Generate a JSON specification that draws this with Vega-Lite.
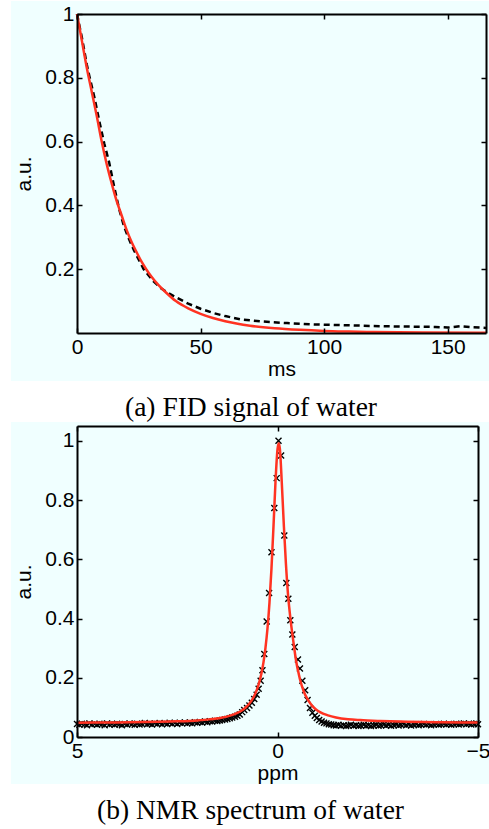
{
  "$schema": "https://vega.github.io/schema/vega-lite/v6.json",
  "padding": {"left": 10, "top": 0, "right": 0, "bottom": 0},
  "background": "white",
  "spacing": 0,
  "config": {
    "view": {"stroke": null},
    "axis": {
      "domainColor": "black", "domainWidth": 2, "tickColor": "black", "tickWidth": 1.5, "tickSize": -5,
      "labelFont": "Liberation Sans", "labelFontSize": 21, "labelColor": "black",
      "titleFont": "Liberation Sans", "titleFontSize": 21, "titleFontWeight": "normal", "titleColor": "black",
      "grid": false, "labelFlush": false, "labelOverlap": false, "labelPadding": 8
    },
    "axisX": {"titlePadding": 1},
    "axisY": {"titlePadding": 10},
    "title": {"font": "Liberation Serif", "fontSize": 27.5, "fontWeight": "normal", "color": "black", "orient": "bottom", "anchor": "middle", "frame": "bounds", "offset": 13}
  },
  "datasets": {
    "fid_fit": [
      {"t": 0, "v": 1.0}, {"t": 2, "v": 0.915}, {"t": 4, "v": 0.83}, {"t": 6, "v": 0.755}, {"t": 8, "v": 0.68},
      {"t": 10, "v": 0.6}, {"t": 12, "v": 0.53}, {"t": 14, "v": 0.47}, {"t": 16, "v": 0.415}, {"t": 18, "v": 0.37},
      {"t": 20, "v": 0.325}, {"t": 22, "v": 0.287}, {"t": 24, "v": 0.255}, {"t": 26, "v": 0.225}, {"t": 28, "v": 0.2},
      {"t": 30, "v": 0.178}, {"t": 33, "v": 0.15}, {"t": 36, "v": 0.127}, {"t": 40, "v": 0.1}, {"t": 45, "v": 0.077},
      {"t": 50, "v": 0.06}, {"t": 55, "v": 0.047}, {"t": 60, "v": 0.037}, {"t": 65, "v": 0.029}, {"t": 70, "v": 0.023},
      {"t": 80, "v": 0.015}, {"t": 90, "v": 0.01}, {"t": 100, "v": 0.0065}, {"t": 110, "v": 0.0045}, {"t": 120, "v": 0.003},
      {"t": 140, "v": 0.0015}, {"t": 165.5, "v": 0.0008}
    ],
    "fid_data": [
      {"t": 0, "v": 1.0}, {"t": 2, "v": 0.925}, {"t": 4, "v": 0.84}, {"t": 5, "v": 0.805}, {"t": 7, "v": 0.74},
      {"t": 9, "v": 0.665}, {"t": 11, "v": 0.595}, {"t": 13, "v": 0.535}, {"t": 15, "v": 0.46}, {"t": 17, "v": 0.39},
      {"t": 19, "v": 0.335}, {"t": 21, "v": 0.295}, {"t": 23, "v": 0.26}, {"t": 25, "v": 0.23}, {"t": 27, "v": 0.2},
      {"t": 29, "v": 0.18}, {"t": 31, "v": 0.162}, {"t": 34, "v": 0.14}, {"t": 37, "v": 0.125}, {"t": 40, "v": 0.112},
      {"t": 45, "v": 0.092}, {"t": 50, "v": 0.076}, {"t": 55, "v": 0.063}, {"t": 60, "v": 0.053}, {"t": 66, "v": 0.043},
      {"t": 75, "v": 0.036}, {"t": 85, "v": 0.031}, {"t": 95, "v": 0.027}, {"t": 105, "v": 0.025}, {"t": 115, "v": 0.023},
      {"t": 125, "v": 0.021}, {"t": 135, "v": 0.02}, {"t": 145, "v": 0.019}, {"t": 150, "v": 0.017}, {"t": 155, "v": 0.021},
      {"t": 160, "v": 0.018}, {"t": 165.5, "v": 0.016}
    ],
    "nmr_fit": [
      {"p": 5, "v": 0.0485}, {"p": 4, "v": 0.0493}, {"p": 3, "v": 0.0511}, {"p": 2.5, "v": 0.0529}, {"p": 2, "v": 0.0561},
      {"p": 1.7, "v": 0.0595}, {"p": 1.4, "v": 0.0651}, {"p": 1.2, "v": 0.0714}, {"p": 1.0, "v": 0.0814}, {"p": 0.9, "v": 0.0888},
      {"p": 0.8, "v": 0.0989}, {"p": 0.7, "v": 0.1131}, {"p": 0.6, "v": 0.1335}, {"p": 0.5, "v": 0.1648}, {"p": 0.45, "v": 0.1868},
      {"p": 0.4, "v": 0.2151}, {"p": 0.35, "v": 0.252}, {"p": 0.3, "v": 0.301}, {"p": 0.25, "v": 0.3663}, {"p": 0.2, "v": 0.4539},
      {"p": 0.15, "v": 0.5691}, {"p": 0.1, "v": 0.7113}, {"p": 0.05, "v": 0.8617}, {"p": 0.0, "v": 0.9712}, {"p": -0.03, "v": 0.992},
      {"p": -0.06, "v": 0.972}, {"p": -0.11, "v": 0.85}, {"p": -0.16, "v": 0.71}, {"p": -0.21, "v": 0.585}, {"p": -0.26, "v": 0.485},
      {"p": -0.31, "v": 0.415}, {"p": -0.36, "v": 0.358}, {"p": -0.41, "v": 0.308}, {"p": -0.46, "v": 0.26}, {"p": -0.51, "v": 0.225},
      {"p": -0.56, "v": 0.195}, {"p": -0.66, "v": 0.152}, {"p": -0.76, "v": 0.125}, {"p": -0.86, "v": 0.106}, {"p": -0.96, "v": 0.093},
      {"p": -1.06, "v": 0.084}, {"p": -1.26, "v": 0.073}, {"p": -1.46, "v": 0.066}, {"p": -1.76, "v": 0.06}, {"p": -2.06, "v": 0.057},
      {"p": -2.56, "v": 0.054}, {"p": -3.06, "v": 0.052}, {"p": -4.06, "v": 0.05}, {"p": -5, "v": 0.049}
    ],
    "nmr_data": [
      {"p": 5.00, "v": 0.044}, {"p": 4.94, "v": 0.041}, {"p": 4.88, "v": 0.045}, {"p": 4.81, "v": 0.043}, {"p": 4.75, "v": 0.040},
      {"p": 4.69, "v": 0.046}, {"p": 4.63, "v": 0.042}, {"p": 4.56, "v": 0.044}, {"p": 4.50, "v": 0.041}, {"p": 4.44, "v": 0.045},
      {"p": 4.38, "v": 0.043}, {"p": 4.31, "v": 0.040}, {"p": 4.25, "v": 0.046}, {"p": 4.19, "v": 0.042}, {"p": 4.13, "v": 0.044},
      {"p": 4.06, "v": 0.041}, {"p": 4.00, "v": 0.045}, {"p": 3.94, "v": 0.043}, {"p": 3.88, "v": 0.040}, {"p": 3.81, "v": 0.044},
      {"p": 3.75, "v": 0.042}, {"p": 3.69, "v": 0.046}, {"p": 3.63, "v": 0.043}, {"p": 3.56, "v": 0.041}, {"p": 3.50, "v": 0.045},
      {"p": 3.44, "v": 0.042}, {"p": 3.38, "v": 0.044}, {"p": 3.31, "v": 0.047}, {"p": 3.25, "v": 0.043}, {"p": 3.19, "v": 0.045},
      {"p": 3.13, "v": 0.042}, {"p": 3.06, "v": 0.046}, {"p": 3.00, "v": 0.044}, {"p": 2.94, "v": 0.047}, {"p": 2.88, "v": 0.043},
      {"p": 2.81, "v": 0.046}, {"p": 2.75, "v": 0.044}, {"p": 2.69, "v": 0.048}, {"p": 2.63, "v": 0.045}, {"p": 2.56, "v": 0.047},
      {"p": 2.50, "v": 0.044}, {"p": 2.44, "v": 0.048}, {"p": 2.38, "v": 0.046}, {"p": 2.31, "v": 0.049}, {"p": 2.25, "v": 0.046},
      {"p": 2.19, "v": 0.048}, {"p": 2.13, "v": 0.046}, {"p": 2.06, "v": 0.050}, {"p": 2.00, "v": 0.048}, {"p": 1.94, "v": 0.051},
      {"p": 1.88, "v": 0.049}, {"p": 1.81, "v": 0.052}, {"p": 1.75, "v": 0.050}, {"p": 1.69, "v": 0.053}, {"p": 1.63, "v": 0.052},
      {"p": 1.56, "v": 0.055}, {"p": 1.50, "v": 0.054}, {"p": 1.44, "v": 0.056}, {"p": 1.38, "v": 0.057}, {"p": 1.31, "v": 0.059},
      {"p": 1.25, "v": 0.061}, {"p": 1.19, "v": 0.063}, {"p": 1.13, "v": 0.066}, {"p": 1.06, "v": 0.068}, {"p": 1.00, "v": 0.072},
      {"p": 0.94, "v": 0.076}, {"p": 0.88, "v": 0.084}, {"p": 0.83, "v": 0.091}, {"p": 0.76, "v": 0.098}, {"p": 0.70, "v": 0.106},
      {"p": 0.64, "v": 0.116}, {"p": 0.58, "v": 0.128}, {"p": 0.52, "v": 0.143}, {"p": 0.47, "v": 0.163}, {"p": 0.42, "v": 0.19},
      {"p": 0.375, "v": 0.225}, {"p": 0.33, "v": 0.28}, {"p": 0.27, "v": 0.39}, {"p": 0.21, "v": 0.486}, {"p": 0.15, "v": 0.624},
      {"p": 0.08, "v": 0.773}, {"p": 0.02, "v": 0.874}, {"p": -0.025, "v": 1.0}, {"p": -0.09, "v": 0.95}, {"p": -0.17, "v": 0.68},
      {"p": -0.22, "v": 0.52}, {"p": -0.27, "v": 0.467}, {"p": -0.32, "v": 0.394}, {"p": -0.37, "v": 0.346}, {"p": -0.43, "v": 0.304},
      {"p": -0.51, "v": 0.262}, {"p": -0.56, "v": 0.231}, {"p": -0.62, "v": 0.19}, {"p": -0.69, "v": 0.158}, {"p": -0.75, "v": 0.125},
      {"p": -0.81, "v": 0.098}, {"p": -0.87, "v": 0.082}, {"p": -0.93, "v": 0.072}, {"p": -0.98, "v": 0.064}, {"p": -1.04, "v": 0.057},
      {"p": -1.10, "v": 0.052}, {"p": -1.16, "v": 0.048}, {"p": -1.22, "v": 0.046}, {"p": -1.28, "v": 0.043}, {"p": -1.34, "v": 0.042},
      {"p": -1.40, "v": 0.040}, {"p": -1.46, "v": 0.039}, {"p": -1.52, "v": 0.041}, {"p": -1.58, "v": 0.038}, {"p": -1.65, "v": 0.040},
      {"p": -1.71, "v": 0.037}, {"p": -1.77, "v": 0.039}, {"p": -1.83, "v": 0.041}, {"p": -1.90, "v": 0.038}, {"p": -1.96, "v": 0.040},
      {"p": -2.02, "v": 0.037}, {"p": -2.08, "v": 0.039}, {"p": -2.15, "v": 0.041}, {"p": -2.21, "v": 0.038}, {"p": -2.27, "v": 0.040},
      {"p": -2.33, "v": 0.037}, {"p": -2.40, "v": 0.039}, {"p": -2.46, "v": 0.041}, {"p": -2.52, "v": 0.038}, {"p": -2.58, "v": 0.040},
      {"p": -2.65, "v": 0.042}, {"p": -2.71, "v": 0.039}, {"p": -2.77, "v": 0.041}, {"p": -2.83, "v": 0.038}, {"p": -2.90, "v": 0.040},
      {"p": -2.96, "v": 0.042}, {"p": -3.02, "v": 0.039}, {"p": -3.08, "v": 0.041}, {"p": -3.15, "v": 0.043}, {"p": -3.21, "v": 0.040},
      {"p": -3.27, "v": 0.042}, {"p": -3.33, "v": 0.039}, {"p": -3.40, "v": 0.041}, {"p": -3.46, "v": 0.043}, {"p": -3.52, "v": 0.040},
      {"p": -3.58, "v": 0.042}, {"p": -3.65, "v": 0.044}, {"p": -3.71, "v": 0.041}, {"p": -3.77, "v": 0.043}, {"p": -3.83, "v": 0.040},
      {"p": -3.90, "v": 0.042}, {"p": -3.96, "v": 0.044}, {"p": -4.02, "v": 0.041}, {"p": -4.08, "v": 0.043}, {"p": -4.15, "v": 0.045},
      {"p": -4.21, "v": 0.042}, {"p": -4.27, "v": 0.044}, {"p": -4.33, "v": 0.041}, {"p": -4.40, "v": 0.043}, {"p": -4.46, "v": 0.045},
      {"p": -4.52, "v": 0.042}, {"p": -4.58, "v": 0.044}, {"p": -4.65, "v": 0.046}, {"p": -4.71, "v": 0.043}, {"p": -4.77, "v": 0.045},
      {"p": -4.83, "v": 0.042}, {"p": -4.90, "v": 0.044}, {"p": -4.96, "v": 0.046}, {"p": -5.00, "v": 0.043}
    ]
  },
  "vconcat": [
    {
      "width": 409,
      "height": 319,
      "title": {"text": "(a) FID signal of water"},
      "layer": [
        {
          "data": {"values": [{}]},
          "mark": {"type": "rect", "color": "#f0ffff", "clip": false},
          "encoding": {
            "x": {"datum": -26.7, "type": "quantitative", "scale": {"domain": [0, 165.5], "nice": false, "zero": false}, "axis": null},
            "x2": {"datum": 167.1},
            "y": {"datum": 1.0408, "type": "quantitative", "scale": {"domain": [0, 1], "nice": false, "zero": false}, "axis": null},
            "y2": {"datum": -0.1505}
          }
        },
        {
          "data": {"name": "fid_data"},
          "mark": {"type": "line", "color": "black", "strokeWidth": 2.5, "strokeDash": [6, 4]},
          "encoding": {
            "x": {"field": "t", "type": "quantitative", "scale": {"domain": [0, 165.5], "nice": false, "zero": false},
                  "axis": {"orient": "top", "labels": false, "title": null, "values": [0, 50, 100, 150], "zindex": 1}},
            "y": {"field": "v", "type": "quantitative", "scale": {"domain": [0, 1], "nice": false, "zero": false},
                  "axis": {"orient": "right", "labels": false, "title": null, "values": [0.2, 0.4, 0.6, 0.8, 1], "zindex": 1}}
          }
        },
        {
          "data": {"name": "fid_fit"},
          "mark": {"type": "line", "color": "#ff3322", "strokeWidth": 2.5, "interpolate": "monotone"},
          "encoding": {
            "x": {"field": "t", "type": "quantitative", "scale": {"domain": [0, 165.5], "nice": false, "zero": false},
                  "axis": {"orient": "bottom", "title": "ms", "values": [0, 50, 100, 150], "format": "~r", "zindex": 1}},
            "y": {"field": "v", "type": "quantitative", "scale": {"domain": [0, 1], "nice": false, "zero": false},
                  "axis": {"orient": "left", "title": "a.u.", "values": [0.2, 0.4, 0.6, 0.8, 1], "format": "~r", "zindex": 1}}
          }
        }
      ],
      "resolve": {"axis": {"x": "independent", "y": "independent"}}
    },
    {
      "width": 401,
      "height": 311,
      "title": {"text": "(b) NMR spectrum of water"},
      "layer": [
        {
          "data": {"values": [{}]},
          "mark": {"type": "rect", "color": "#f0ffff", "clip": false},
          "encoding": {
            "x": {"datum": 6.646, "type": "quantitative", "scale": {"domain": [-5, 5], "reverse": true, "nice": false, "zero": false}, "axis": null},
            "x2": {"datum": -5.30},
            "y": {"datum": 1.0635, "type": "quantitative", "scale": {"domain": [0, 1.05], "nice": false, "zero": false}, "axis": null},
            "y2": {"datum": -0.1587}
          }
        },
        {
          "data": {"name": "nmr_data"},
          "mark": {"type": "point", "shape": "M-1,-1L1,1M-1,1L1,-1", "filled": false, "color": "black", "strokeWidth": 1.4, "size": 36, "opacity": 1},
          "encoding": {
            "x": {"field": "p", "type": "quantitative", "scale": {"domain": [-5, 5], "reverse": true, "nice": false, "zero": false},
                  "axis": {"orient": "top", "labels": false, "title": null, "values": [5, 0, -5], "zindex": 1}},
            "y": {"field": "v", "type": "quantitative", "scale": {"domain": [0, 1.05], "nice": false, "zero": false},
                  "axis": {"orient": "right", "labels": false, "title": null, "values": [0, 0.2, 0.4, 0.6, 0.8, 1], "zindex": 1}}
          }
        },
        {
          "data": {"name": "nmr_fit"},
          "mark": {"type": "line", "color": "#ff3322", "strokeWidth": 2.5, "interpolate": "monotone"},
          "encoding": {
            "x": {"field": "p", "type": "quantitative", "scale": {"domain": [-5, 5], "reverse": true, "nice": false, "zero": false},
                  "axis": {"orient": "bottom", "title": "ppm", "values": [5, 0, -5], "format": "~r", "zindex": 1}},
            "y": {"field": "v", "type": "quantitative", "scale": {"domain": [0, 1.05], "nice": false, "zero": false},
                  "axis": {"orient": "left", "title": "a.u.", "values": [0, 0.2, 0.4, 0.6, 0.8, 1], "format": "~r", "zindex": 1}}
          }
        }
      ],
      "resolve": {"axis": {"x": "independent", "y": "independent"}}
    }
  ]
}
